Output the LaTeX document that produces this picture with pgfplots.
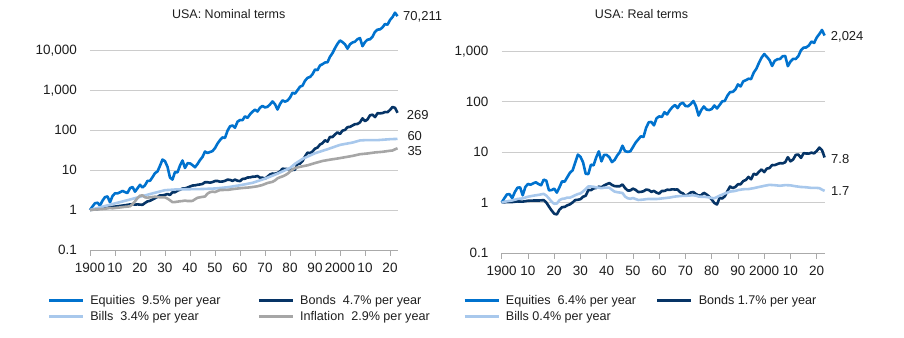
\documentclass[border=0pt]{standalone}
\usepackage{fontspec}
\setmainfont{Liberation Sans}
\usepackage{pgfplots}
\pgfplotsset{compat=1.18}
\definecolor{eqc}{RGB}{0,114,206}
\definecolor{bdc}{RGB}{6,52,102}
\definecolor{blc}{RGB}{168,200,236}
\definecolor{inc}{RGB}{166,166,166}
\definecolor{gridgray}{RGB}{204,204,204}
\definecolor{axisgray}{RGB}{170,170,170}
\definecolor{txt}{RGB}{30,30,30}
\tikzset{endlab/.style={anchor=west, inner sep=0pt, font=\fontsize{13bp}{15bp}\selectfont, text=txt, text height=9.3bp, text depth=0pt}}
\begin{document}
\begin{tikzpicture}
\useasboundingbox (0,0) rectangle (904bp,338bp);
% ---------------- Nominal ----------------
\begin{axis}[
  ymode=log,
  scale only axis,
  at={(90bp,88bp)}, anchor=south west,
  width=308.25bp, height=240bp,
  xmin=1900, xmax=2023.3, ymin=0.1, ymax=100000,
  axis x line*=bottom, axis y line*=left,
  x axis line style={draw=axisgray, line width=0.8bp},
  y axis line style={draw=none},
  xtick={1900,1910,...,2020},
  xticklabels={1900,10,20,30,40,50,60,70,80,90,2000,10,20},
  xtick align=outside,
  xtick style={draw=axisgray, line width=0.8bp},
  major tick length=6bp,
  ytick style={draw=none},
  yminorticks=false,
  ymajorgrids,
  grid style={draw=gridgray, line width=0.8bp},
  ytick={0.1,1,10,100,1000,10000},
  yticklabels={0.1,1,10,100,{1,000},{10,000}},
  tick label style={font=\fontsize{13.5bp}{16bp}\selectfont, text=txt, inner sep=0pt, text height=9.7bp, text depth=0pt},
  yticklabel style={anchor=east, xshift=-13bp},
  xticklabel style={anchor=north, yshift=-7bp},
  legend columns=2,
  legend cell align=left,
  legend image code/.code={\draw[#1, line width=2.6bp] (0bp,0bp) -- (34bp,0bp);},
  legend style={draw=none, fill=none, inner sep=0pt, outer sep=0pt, anchor=north west,
      at={(-0.1372,-0.1804)}, font=\fontsize{12.6bp}{15bp}\selectfont, text=txt, row sep=1.2bp,
      /tikz/every odd column/.append style={column sep=4bp},
      /tikz/every even column/.append style={column sep=35bp}},
  every axis plot/.append style={line width=2.6bp, line join=round, mark=none},
  clip=false,
]
\addplot[eqc] coordinates {
(1900,1) (1901,1.224) (1902,1.476) (1903,1.520) (1904,1.292) (1905,1.710) (1906,2.099) (1907,2.182) (1908,1.560) (1909,2.228)
(1910,2.618) (1911,2.599) (1912,2.769) (1913,3.000) (1914,2.798) (1915,2.664) (1916,3.510) (1917,3.767) (1918,2.869) (1919,3.493)
(1920,4.265) (1921,3.654) (1922,4.161) (1923,5.334) (1924,5.374) (1925,6.617) (1926,8.355) (1927,9.188) (1928,12.78) (1929,18.20)
(1930,16.59) (1931,12.02) (1932,6.456) (1933,5.759) (1934,8.866) (1935,8.742) (1936,12.91) (1937,17.29) (1938,11.24) (1939,14.73)
(1940,14.68) (1941,13.24) (1942,11.70) (1943,14.08) (1944,17.73) (1945,21.23) (1946,28.96) (1947,26.62) (1948,28.15) (1949,29.70)
(1950,35.28) (1951,45.75) (1952,55.86) (1953,65.15) (1954,63.51) (1955,95.43) (1956,123.7) (1957,129.8) (1958,114.1) (1959,161.0)
(1960,177.6) (1961,175.8) (1962,219.8) (1963,200.6) (1964,246.4) (1965,287.0) (1966,322.8) (1967,290.3) (1968,359.9) (1969,399.9)
(1970,365.9) (1971,380.5) (1972,434.9) (1973,517.4) (1974,441.3) (1975,324.3) (1976,445.0) (1977,551.0) (1978,511.2) (1979,545.0)
(1980,645.2) (1981,854.2) (1982,812.4) (1983,986.3) (1984,1208) (1985,1284) (1986,1698) (1987,2012) (1988,2116) (1989,2472)
(1990,3250) (1991,3146) (1992,4108) (1993,4424) (1994,4867) (1995,4930) (1996,6783) (1997,8344) (1998,11130) (1999,14310)
(2000,17320) (2001,15740) (2002,13870) (2003,10800) (2004,13910) (2005,15420) (2006,16180) (2007,18740) (2008,19770) (2009,12450)
(2010,15750) (2011,18130) (2012,18510) (2013,21470) (2014,28430) (2015,32330) (2016,32780) (2017,36720) (2018,44730) (2019,42760)
(2020,56230) (2021,66580) (2022,85680) (2023,70211)
};
\addlegendentry{Equities\ \ 9.5\% per year}
\addplot[bdc] coordinates {
(1900,1) (1902,1.040) (1904,1.081) (1906,1.125) (1908,1.169) (1910,1.216) (1912,1.265) (1914,1.315) (1916,1.380) (1917,1.396)
(1918,1.365) (1919,1.380) (1920,1.365) (1921,1.349) (1922,1.496) (1923,1.641) (1924,1.698) (1925,1.828) (1926,1.975) (1927,2.129)
(1928,2.318) (1929,2.320) (1930,2.399) (1931,2.512) (1932,2.378) (1933,2.778) (1934,2.776) (1935,3.053) (1936,3.206) (1937,3.446)
(1938,3.453) (1939,3.643) (1940,3.858) (1941,4.094) (1942,4.131) (1943,4.264) (1944,4.353) (1945,4.475) (1946,4.955) (1947,4.950)
(1948,4.822) (1949,4.986) (1950,5.303) (1951,5.309) (1952,5.101) (1953,5.163) (1954,5.349) (1955,5.735) (1956,5.660) (1957,5.343)
(1958,5.744) (1959,5.394) (1960,5.270) (1961,5.997) (1962,6.057) (1963,6.475) (1964,6.553) (1965,6.782) (1966,6.829) (1967,7.082)
(1968,6.430) (1969,6.411) (1970,6.084) (1971,6.821) (1972,7.719) (1973,8.159) (1974,8.069) (1975,8.425) (1976,9.200) (1977,10.75)
(1978,10.67) (1979,10.54) (1980,10.42) (1981,10.00) (1982,10.19) (1983,14.31) (1984,14.41) (1985,16.64) (1986,21.81) (1987,27.15)
(1988,26.42) (1989,28.98) (1990,34.21) (1991,36.34) (1992,43.35) (1993,46.86) (1994,55.39) (1995,51.07) (1996,67.24) (1997,66.65)
(1998,77.25) (1999,87.37) (2000,79.51) (2001,96.61) (2002,100.2) (2003,118.0) (2004,119.7) (2005,129.8) (2006,139.9) (2007,141.6)
(2008,155.6) (2009,196.0) (2010,166.7) (2011,183.5) (2012,233.3) (2013,241.2) (2014,210.3) (2015,262.3) (2016,260.5) (2017,265.1)
(2018,281.5) (2019,278.7) (2020,317.8) (2021,375.2) (2022,358.7) (2023,269)
};
\addlegendentry{Bonds\ \ 4.7\% per year}
\addplot[blc] coordinates {
(1900,1) (1905,1.211) (1910,1.462) (1915,1.758) (1920,2.138) (1925,2.600) (1930,3.126) (1935,3.285) (1940,3.310) (1945,3.346)
(1950,3.451) (1955,3.703) (1960,4.157) (1965,4.776) (1970,6.079) (1975,8.099) (1980,11.20) (1982,14.29) (1985,18.86) (1987,21.58)
(1990,26.25) (1995,33.06) (2000,42.47) (2005,48.48) (2008,54.80) (2010,55.72) (2015,55.82) (2020,58.90) (2023,60)
};
\addlegendentry{Bills\ \ 3.4\% per year}
\addplot[inc] coordinates {
(1900,1) (1903,1.040) (1906,1.071) (1908,1.125) (1909,1.102) (1910,1.124) (1912,1.157) (1914,1.203) (1915,1.215) (1916,1.239)
(1917,1.395) (1918,1.647) (1919,1.983) (1920,2.270) (1921,2.328) (1922,2.076) (1923,2.028) (1924,2.076) (1926,2.148) (1928,2.075)
(1930,2.062) (1931,1.930) (1932,1.751) (1933,1.570) (1934,1.582) (1936,1.653) (1937,1.676) (1938,1.724) (1939,1.676) (1940,1.676)
(1941,1.687) (1942,1.855) (1943,2.021) (1944,2.080) (1945,2.129) (1946,2.175) (1947,2.568) (1948,2.794) (1949,2.877) (1950,2.816)
(1951,2.982) (1952,3.160) (1955,3.184) (1958,3.386) (1961,3.551) (1964,3.679) (1967,3.917) (1969,4.222) (1971,4.733) (1973,5.054)
(1974,5.494) (1975,6.168) (1976,6.594) (1977,6.915) (1978,7.377) (1979,8.043) (1980,9.108) (1981,10.24) (1982,11.16) (1984,12.02)
(1987,13.10) (1990,14.92) (1993,16.80) (1996,18.15) (1999,19.36) (2002,20.88) (2005,22.50) (2008,24.81) (2011,25.88) (2014,27.50)
(2017,28.49) (2020,30.30) (2021,30.72) (2022,32.87) (2023,35)
};
\addlegendentry{Inflation\ \ 2.9\% per year}
\node[endlab, xshift=5.5bp] at (axis cs:2023,70211) {70,211};
\node[endlab, xshift=9.2bp, yshift=-1.7bp] at (axis cs:2023,269) {269};
\node[endlab, xshift=9.8bp, yshift=2.7bp] at (axis cs:2023,60) {60};
\node[endlab, xshift=9.8bp, yshift=-3bp] at (axis cs:2023,35) {35};
\end{axis}
% ---------------- Real ----------------
\begin{axis}[
  ymode=log,
  scale only axis,
  at={(501.7bp,85bp)}, anchor=south west,
  width=322.9bp, height=241.3bp,
  xmin=1900, xmax=2023, ymin=0.1, ymax=6000,
  axis x line*=bottom, axis y line*=left,
  x axis line style={draw=axisgray, line width=0.8bp},
  y axis line style={draw=none},
  xtick={1900,1910,...,2020},
  xticklabels={1900,10,20,30,40,50,60,70,80,90,2000,10,20},
  xtick align=outside,
  xtick style={draw=axisgray, line width=0.8bp},
  major tick length=6bp,
  ytick style={draw=none},
  yminorticks=false,
  ymajorgrids,
  grid style={draw=gridgray, line width=0.8bp},
  ytick={0.1,1,10,100,1000},
  yticklabels={0.1,1,10,100,{1,000}},
  tick label style={font=\fontsize{13.5bp}{16bp}\selectfont, text=txt, inner sep=0pt, text height=9.7bp, text depth=0pt},
  yticklabel style={anchor=east, xshift=-13bp},
  xticklabel style={anchor=north, yshift=-7bp},
  legend columns=2,
  legend cell align=left,
  legend image code/.code={\draw[#1, line width=2.6bp] (0bp,0bp) -- (34bp,0bp);},
  legend style={draw=none, fill=none, inner sep=0pt, outer sep=0pt, anchor=north west,
      at={(-0.1189,-0.167)}, font=\fontsize{12.6bp}{15bp}\selectfont, text=txt, row sep=1.2bp,
      /tikz/every odd column/.append style={column sep=4bp},
      /tikz/every even column/.append style={column sep=18bp}},
  every axis plot/.append style={line width=2.6bp, line join=round, mark=none},
  clip=false,
]
\addplot[eqc] coordinates {
(1900,1) (1901,1.213) (1902,1.446) (1903,1.462) (1904,1.218) (1905,1.613) (1906,1.960) (1907,1.999) (1908,1.387) (1909,2.023)
(1910,2.330) (1911,2.245) (1912,2.394) (1913,2.518) (1914,2.325) (1915,2.194) (1916,2.832) (1917,2.700) (1918,1.742) (1919,1.763)
(1920,1.880) (1921,1.570) (1922,2.004) (1923,2.630) (1924,2.588) (1925,3.187) (1926,3.890) (1927,4.326) (1928,6.160) (1929,8.875)
(1930,8.049) (1931,6.229) (1932,3.689) (1933,3.665) (1934,5.603) (1935,5.444) (1936,7.808) (1937,10.31) (1938,6.515) (1939,8.785)
(1940,8.753) (1941,7.844) (1942,6.310) (1943,6.966) (1944,8.518) (1945,9.978) (1946,13.32) (1947,10.37) (1948,10.07) (1949,10.32)
(1950,12.53) (1951,15.34) (1952,17.67) (1953,20.45) (1954,19.80) (1955,29.98) (1956,38.71) (1957,39.44) (1958,33.69) (1959,46.73)
(1960,50.69) (1961,49.50) (1962,61.43) (1963,55.39) (1964,66.94) (1965,77.23) (1966,85.27) (1967,74.12) (1968,89.21) (1969,94.71)
(1970,81.62) (1971,80.37) (1972,88.92) (1973,102.3) (1974,80.33) (1975,52.59) (1976,67.49) (1977,79.68) (1978,69.28) (1979,67.76)
(1980,70.83) (1981,83.39) (1982,72.82) (1983,85.18) (1984,100.6) (1985,102.9) (1986,131.1) (1987,153.6) (1988,154.8) (1989,173.2)
(1990,217.8) (1991,198.7) (1992,251.7) (1993,263.4) (1994,282.2) (1995,278.4) (1996,373.8) (1997,445.1) (1998,584.1) (1999,739.3)
(2000,871.2) (2001,766.0) (2002,664.4) (2003,505.4) (2004,638.6) (2005,685.5) (2006,695.7) (2007,786.1) (2008,796.7) (2009,501.4)
(2010,618.0) (2011,700.7) (2012,694.7) (2013,792.6) (2014,1034) (2015,1167) (2016,1175) (2017,1289) (2018,1538) (2019,1443)
(2020,1855) (2021,2167) (2022,2607) (2023,2024)
};
\addlegendentry{Equities\ \ 6.4\% per year}
\addplot[bdc] coordinates {
(1900,1) (1902,1.020) (1904,1.020) (1906,1.050) (1908,1.040) (1910,1.082) (1912,1.093) (1914,1.093) (1916,1.114) (1917,1.001)
(1918,0.829) (1919,0.696) (1920,0.601) (1921,0.580) (1922,0.721) (1923,0.809) (1924,0.818) (1925,0.880) (1926,0.919) (1927,1.002)
(1928,1.117) (1929,1.132) (1930,1.164) (1931,1.301) (1932,1.359) (1933,1.770) (1934,1.755) (1935,1.901) (1936,1.939) (1937,2.056)
(1938,2.003) (1939,2.174) (1940,2.303) (1941,2.427) (1942,2.228) (1943,2.110) (1944,2.092) (1945,2.102) (1946,2.278) (1947,1.928)
(1948,1.726) (1949,1.733) (1950,1.884) (1951,1.780) (1952,1.614) (1953,1.621) (1954,1.668) (1955,1.801) (1956,1.771) (1957,1.624)
(1958,1.697) (1959,1.565) (1960,1.504) (1961,1.689) (1962,1.694) (1963,1.788) (1964,1.781) (1965,1.826) (1966,1.804) (1967,1.808)
(1968,1.594) (1969,1.519) (1970,1.358) (1971,1.441) (1972,1.579) (1973,1.614) (1974,1.469) (1975,1.366) (1976,1.395) (1977,1.554)
(1978,1.447) (1979,1.311) (1980,1.144) (1981,0.976) (1982,0.914) (1983,1.236) (1984,1.200) (1985,1.334) (1986,1.684) (1987,2.074)
(1988,1.932) (1989,2.031) (1990,2.294) (1991,2.296) (1992,2.657) (1993,2.791) (1994,3.212) (1995,2.884) (1996,3.707) (1997,3.556)
(1998,4.054) (1999,4.512) (2000,3.999) (2001,4.700) (2002,4.798) (2003,5.521) (2004,5.495) (2005,5.771) (2006,6.018) (2007,5.943)
(2008,6.273) (2009,7.890) (2010,6.541) (2011,7.095) (2012,8.757) (2013,8.905) (2014,7.648) (2015,9.465) (2016,9.333) (2017,9.307)
(2018,9.683) (2019,9.406) (2020,10.48) (2021,12.21) (2022,10.91) (2023,7.8)
};
\addlegendentry{Bonds 1.7\% per year}
\addplot[blc] coordinates {
(1900,1) (1902,1.058) (1904,1.098) (1906,1.173) (1908,1.205) (1910,1.301) (1912,1.364) (1914,1.415) (1915,1.447) (1916,1.482)
(1917,1.368) (1918,1.204) (1919,1.038) (1920,0.942) (1921,0.954) (1922,1.111) (1923,1.181) (1924,1.198) (1925,1.252) (1926,1.250)
(1927,1.313) (1928,1.396) (1929,1.468) (1930,1.516) (1931,1.659) (1932,1.849) (1933,2.083) (1934,2.073) (1935,2.046) (1936,1.991)
(1937,1.968) (1938,1.919) (1939,1.974) (1940,1.974) (1941,1.961) (1942,1.786) (1943,1.644) (1944,1.603) (1945,1.572) (1946,1.543)
(1947,1.311) (1948,1.212) (1949,1.186) (1950,1.226) (1951,1.171) (1952,1.122) (1953,1.132) (1954,1.144) (1955,1.163) (1956,1.177)
(1957,1.172) (1958,1.174) (1959,1.171) (1960,1.186) (1962,1.219) (1964,1.254) (1966,1.311) (1968,1.344) (1969,1.351) (1970,1.356)
(1971,1.367) (1972,1.382) (1973,1.388) (1974,1.365) (1975,1.313) (1976,1.299) (1977,1.302) (1978,1.283) (1979,1.262) (1980,1.230)
(1981,1.216) (1982,1.281) (1983,1.364) (1984,1.430) (1985,1.511) (1986,1.568) (1987,1.647) (1988,1.665) (1989,1.697) (1990,1.759)
(1992,1.831) (1994,1.845) (1996,1.924) (1998,2.029) (2000,2.136) (2002,2.236) (2004,2.200) (2006,2.147) (2008,2.209) (2010,2.186)
(2012,2.093) (2014,2.030) (2016,2.001) (2018,1.944) (2020,1.944) (2021,1.925) (2022,1.799) (2023,1.7)
};
\addlegendentry{Bills 0.4\% per year}
\node[endlab, xshift=6.1bp, yshift=-0.7bp] at (axis cs:2023,2024) {2,024};
\node[endlab, xshift=6.4bp, yshift=-1.2bp] at (axis cs:2023,7.8) {7.8};
\node[endlab, xshift=6.4bp, yshift=-0.4bp] at (axis cs:2023,1.7) {1.7};
\end{axis}
\node[anchor=base, font=\fontsize{12.5bp}{15bp}\selectfont, text=txt] at (228.7bp,319bp) {USA: Nominal terms};
\node[anchor=base, font=\fontsize{12.5bp}{15bp}\selectfont, text=txt] at (641.5bp,319bp) {USA: Real terms};
\end{tikzpicture}
\end{document}
